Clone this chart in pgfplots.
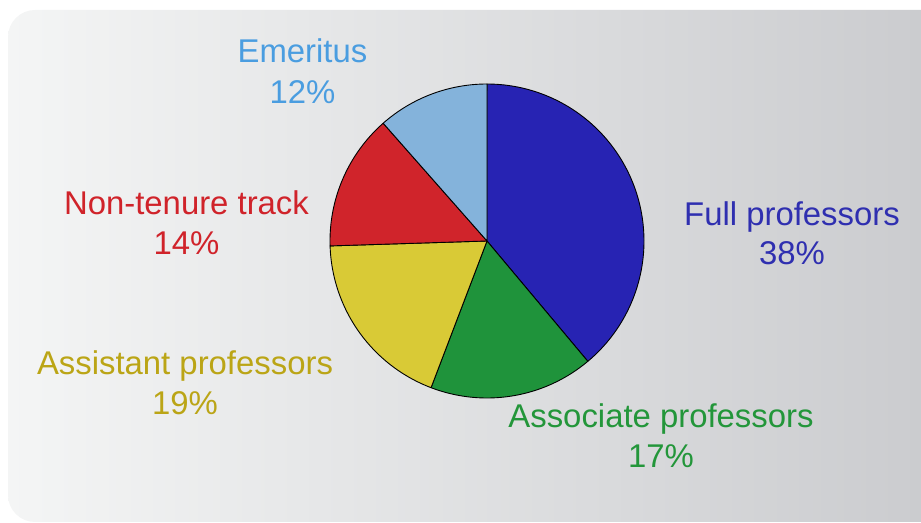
\documentclass[border=0pt]{standalone}
\usepackage{pgfplots}
\pgfplotsset{compat=1.18}
\usepackage{pgfplotstable}
\usepackage{fontspec}
\setmainfont{Liberation Sans}
\definecolor{cFull}{HTML}{2723B3}
\definecolor{cAssoc}{HTML}{1F933B}
\definecolor{cAssist}{HTML}{D9CA36}
\definecolor{cNon}{HTML}{D0242B}
\definecolor{cEme}{HTML}{84B3DB}
\definecolor{tFull}{HTML}{2F2FB0}
\definecolor{tAssoc}{HTML}{23963A}
\definecolor{tAssist}{HTML}{BBA516}
\definecolor{tNon}{HTML}{D0232A}
\definecolor{tEme}{HTML}{4A9DE0}
\definecolor{bgL}{HTML}{F4F5F5}
\definecolor{bgR}{HTML}{CBCCCF}
% slice shares (percent of circle), clockwise from 12 o'clock
\pgfplotstableread{
name share
Full 38.9
Associate 16.9
Assistant 18.7
Nontenure 14.0
Emeritus 11.5
}\pietable
\pgfplotstablegetelem{0}{share}\of\pietable \let\sA\pgfplotsretval
\pgfplotstablegetelem{1}{share}\of\pietable \let\sB\pgfplotsretval
\pgfplotstablegetelem{2}{share}\of\pietable \let\sC\pgfplotsretval
\pgfplotstablegetelem{3}{share}\of\pietable \let\sD\pgfplotsretval
\pgfplotstablegetelem{4}{share}\of\pietable \let\sE\pgfplotsretval
\pgfmathsetmacro\aA{90}
\pgfmathsetmacro\aB{\aA-3.6*\sA}
\pgfmathsetmacro\aC{\aB-3.6*\sB}
\pgfmathsetmacro\aD{\aC-3.6*\sC}
\pgfmathsetmacro\aE{\aD-3.6*\sD}
\pgfmathsetmacro\aF{\aE-3.6*\sE}
\newcommand\slice[3]{%
  \addplot[draw=black, line width=0.9pt, fill=#3, line join=round,
    domain=#2:#1, samples=90, variable=\t]
    ({487+157*cos(\t)},{282+157*sin(\t)}) -- (axis cs:487,282) -- cycle;}
\begin{document}
\begin{tikzpicture}
\begin{axis}[
  width=921bp, height=523bp, scale only axis,
  xmin=0, xmax=921, ymin=0, ymax=523,
  hide axis, clip=false]
\shade[left color=bgL, right color=bgR]
  (axis cs:921,513) [rounded corners=27bp] -- (axis cs:8,513) -- (axis cs:8,1)
  [sharp corners] -- (axis cs:921,1) -- cycle;
\slice{\aA}{\aB}{cFull}
\slice{\aB}{\aC}{cAssoc}
\slice{\aC}{\aD}{cAssist}
\slice{\aD}{\aE}{cNon}
\slice{\aE}{\aF}{cEme}
\begin{scope}[every node/.style={anchor=base, font=\fontsize{33}{40}\selectfont, inner sep=0pt}]
\node[text=tFull] at (axis cs:792,297) {Full professors};
\node[text=tFull] at (axis cs:792,258) {38\%};
\node[text=tAssoc] at (axis cs:661,95) {Associate professors};
\node[text=tAssoc] at (axis cs:661,55) {17\%};
\node[text=tAssist] at (axis cs:185,148) {Assistant professors};
\node[text=tAssist] at (axis cs:185,108) {19\%};
\node[text=tNon] at (axis cs:186.5,308) {Non-tenure track};
\node[text=tNon] at (axis cs:186.5,268) {14\%};
\node[text=tEme] at (axis cs:302.5,460) {Emeritus};
\node[text=tEme] at (axis cs:302.5,419) {12\%};
\end{scope}
\end{axis}
\pgfresetboundingbox
\path[use as bounding box] (0,0) rectangle (921bp,523bp);
\end{tikzpicture}
\end{document}
